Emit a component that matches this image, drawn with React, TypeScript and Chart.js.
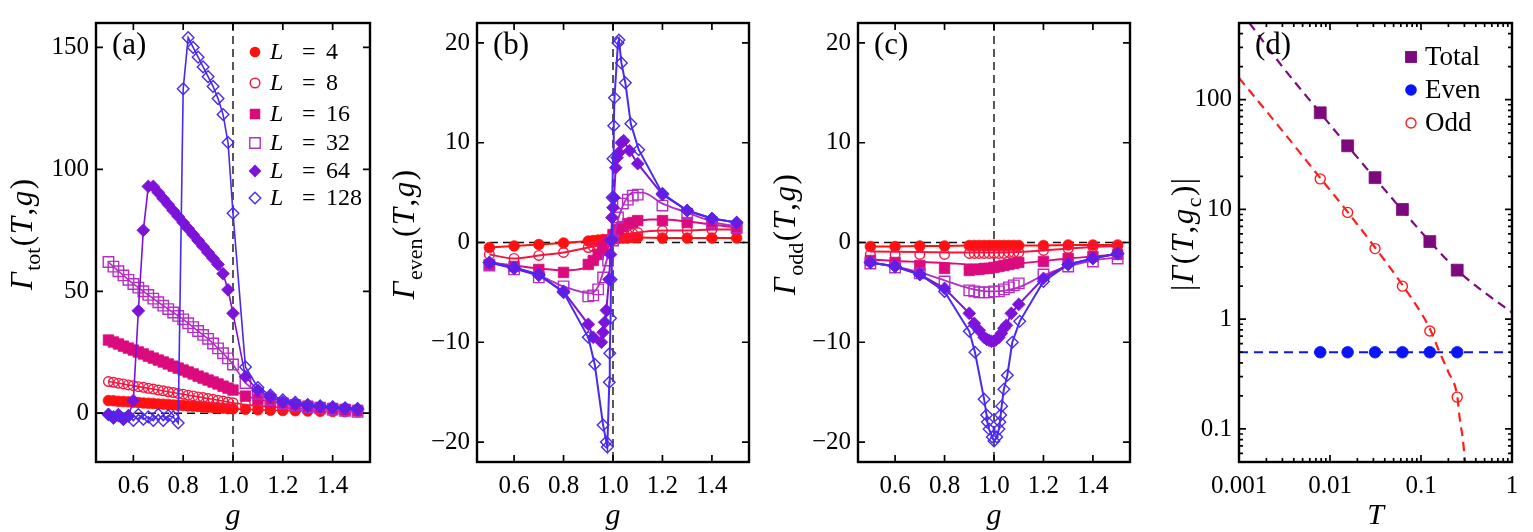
import React, { useEffect, useRef } from "react";
import { Chart, registerables } from "chart.js";
Chart.register(...registerables);

const SERIF = '"Liberation Serif", "DejaVu Serif", serif';

// ---------- colours ----------
const C4 = "#ff1010";
const C8 = "#f5163f";
const C16 = "#db0b7e";
const C32 = "#b52fc3";
const C64 = "#7d12d9";
const C128 = "#4a29f0";
const PURPLE = "#7d0a7d";
const BLUE = "#0a14f5";
const RED = "#ff1e1e";

// ---------- panel (a): Gamma_tot ----------
const gA = [0.5, 0.52, 0.54, 0.56, 0.58, 0.6, 0.62, 0.64, 0.66, 0.68, 0.7, 0.72, 0.74, 0.76, 0.78, 0.8, 0.82, 0.84, 0.86, 0.88, 0.9, 0.92, 0.94, 0.96, 0.98, 1.0, 1.05, 1.1, 1.15, 1.2, 1.25, 1.3, 1.35, 1.4, 1.45, 1.5];
const totL4 = [5.2, 5.1, 4.9, 4.8, 4.7, 4.5, 4.4, 4.2, 4.1, 4.0, 3.8, 3.7, 3.6, 3.4, 3.3, 3.2, 3.0, 2.9, 2.8, 2.6, 2.5, 2.3, 2.2, 2.1, 1.9, 1.8, 1.6, 1.4, 1.2, 1.1, 1.0, 0.9, 0.8, 0.7, 0.6, 0.6];
const totL8 = [13.0, 12.7, 12.3, 12.0, 11.6, 11.3, 10.9, 10.6, 10.2, 9.9, 9.5, 9.2, 8.8, 8.5, 8.1, 7.8, 7.4, 7.1, 6.7, 6.4, 6.0, 5.7, 5.3, 5.0, 4.6, 4.3, 3.5, 3.0, 2.6, 2.3, 2.0, 1.8, 1.6, 1.4, 1.2, 1.0];
const totL16 = [30.0, 29.2, 28.4, 27.5, 26.7, 25.9, 25.1, 24.3, 23.4, 22.6, 21.8, 21.0, 20.2, 19.3, 18.5, 17.7, 16.9, 16.1, 15.2, 14.4, 13.6, 12.8, 12.0, 11.1, 10.3, 9.5, 7.0, 5.7, 4.7, 4.0, 3.4, 2.9, 2.4, 2.0, 1.6, 1.2];
const totL32 = [62.0, 60.1, 58.2, 56.5, 54.7, 53.0, 51.5, 50.0, 48.5, 47.0, 45.5, 44.1, 42.7, 41.3, 39.9, 38.5, 36.9, 35.3, 33.7, 32.1, 30.5, 28.6, 26.6, 24.6, 22.5, 20.0, 12.4, 8.0, 5.5, 4.0, 3.2, 2.5, 2.0, 1.5, 1.0, 0.6];
const totL64 = [-0.5, -2.0, -1.0, -2.5, -1.2, 5.2, 42.0, 75.0, 93.0, 93.0, 90.5, 88.0, 85.6, 83.1, 80.7, 78.2, 75.7, 73.3, 70.8, 68.4, 65.9, 63.5, 61.0, 57.2, 50.6, 41.0, 15.0, 9.4, 6.7, 4.6, 3.7, 2.9, 2.6, 2.3, 1.9, 1.6];
const totL128 = [-0.5, -1.5, -0.5, -2.5, -1.0, -3.0, -0.5, -2.5, -1.5, -3.0, -0.5, -3.0, -1.0, -1.5, -4.0, 133, 154, 150, 146, 142, 138, 134, 129, 122.5, 111, 82, 19, 10.5, 7.5, 5.5, 4.5, 3.6, 3.0, 2.6, 2.2, 1.9];

// ---------- panels (b),(c): common g grid ----------
const gBC = [0.5, 0.6, 0.7, 0.8, 0.9, 0.92, 0.94, 0.96, 0.98, 1.0, 1.02, 1.04, 1.06, 1.08, 1.1, 1.2, 1.3, 1.4, 1.5];

// (b) Gamma_even
const evenL4 = [-0.5, -0.35, -0.2, -0.05, 0.15, 0.2, 0.25, 0.3, 0.3, 0.35, 0.4, 0.45, 0.45, 0.5, 0.5, 0.45, 0.45, 0.45, 0.45];
const evenL8 = [-1.2, -1.6, -1.3, -1.0, -0.5, -0.4, -0.3, -0.1, 0.1, 0.3, 0.5, 0.7, 0.8, 0.9, 1.0, 1.2, 1.2, 1.3, 1.3];
const evenL16 = [-2.2, -2.4, -2.7, -3.0, -2.2, -1.8, -1.2, -0.5, 0.2, 0.8, 1.3, 1.6, 1.9, 2.0, 2.2, 2.2, 2.0, 1.8, 1.4];
const evenL32 = [-2.3, -2.7, -3.5, -4.4, -5.4, -5.3, -4.7, -3.5, -1.8, 0.2, 2.5, 3.9, 4.3, 4.7, 4.8, 3.7, 2.9, 2.0, 1.5];
const gEvenL64 = [0.5, 0.6, 0.7, 0.8, 0.9, 0.92, 0.953, 0.96, 0.966, 0.973, 0.984, 0.99, 0.993, 0.996, 1.0, 1.004, 1.011, 1.016, 1.024, 1.034, 1.043, 1.067, 1.1, 1.2, 1.3, 1.4, 1.5];
const evenL64 = [-2.0, -2.6, -3.3, -4.9, -8.2, -9.5, -10.0, -9.0, -8.0, -6.8, -3.7, -1.2, 0.2, 2.5, 3.5, 4.5, 7.5, 8.5, 9.0, 10.0, 10.2, 9.2, 7.9, 4.8, 3.2, 2.4, 2.0];
const gEvenL128 = [0.5, 0.6, 0.7, 0.8, 0.9, 0.926, 0.96, 0.973, 0.977, 0.985, 0.987, 0.99, 0.992, 0.995, 0.997, 1.0, 1.003, 1.006, 1.02, 1.024, 1.034, 1.05, 1.072, 1.104, 1.2, 1.3, 1.4, 1.5];
const evenL128 = [-2.0, -2.5, -3.2, -5.0, -9.5, -12.2, -18.3, -20.0, -20.5, -14.0, -11.1, -7.6, -3.7, 0.3, 4.5, 8.4, 11.7, 14.5, 20.0, 20.3, 18.0, 16.0, 11.9, 9.3, 4.9, 3.2, 2.4, 2.0];
// (b) smooth curves for L=16, 32
const gEvenLine16 = [0.5, 0.6, 0.7, 0.8, 0.88, 0.93, 0.97, 1.0, 1.03, 1.08, 1.15, 1.2, 1.3, 1.4, 1.5];
const evenLine16 = [-2.0, -2.3, -2.6, -2.8, -2.6, -2.0, -0.9, 0.3, 1.3, 2.0, 2.3, 2.3, 2.1, 1.8, 1.5];
const gEvenLine32 = [0.5, 0.6, 0.7, 0.8, 0.88, 0.91, 0.94, 0.96, 0.98, 1.0, 1.02, 1.05, 1.08, 1.12, 1.2, 1.3, 1.4, 1.5];
const evenLine32 = [-1.9, -2.5, -3.3, -4.4, -5.0, -5.1, -4.4, -3.0, -1.3, 0.3, 2.3, 4.2, 5.0, 5.0, 3.9, 3.0, 2.1, 1.6];

// (c) Gamma_odd
const oddL4 = [-0.4, -0.4, -0.35, -0.35, -0.3, -0.3, -0.3, -0.3, -0.3, -0.3, -0.3, -0.3, -0.3, -0.3, -0.3, -0.3, -0.25, -0.25, -0.25];
const oddL8 = [-1.2, -1.2, -1.2, -1.2, -1.1, -1.1, -1.1, -1.1, -1.1, -1.1, -1.1, -1.1, -1.0, -1.0, -1.0, -0.8, -0.6, -0.45, -0.35];
const oddL16 = [-1.8, -2.0, -2.3, -2.6, -2.8, -2.7, -2.7, -2.6, -2.6, -2.5, -2.4, -2.3, -2.2, -2.1, -2.0, -1.9, -1.6, -1.4, -1.2];
const oddL32 = [-2.1, -2.5, -3.1, -3.9, -4.8, -4.9, -5.0, -5.0, -5.0, -4.9, -4.9, -4.7, -4.5, -4.3, -4.1, -3.2, -2.4, -1.9, -1.6];
const gOddL64 = [0.5, 0.6, 0.7, 0.8, 0.9, 0.92, 0.94, 0.96, 0.97, 0.98, 0.99, 1.0, 1.01, 1.02, 1.03, 1.04, 1.05, 1.07, 1.1, 1.2, 1.3, 1.4, 1.5];
const oddL64 = [-2.0, -2.4, -3.2, -4.6, -7.1, -8.1, -8.8, -9.5, -9.7, -9.8, -9.9, -9.9, -9.7, -9.5, -9.1, -8.6, -8.3, -7.1, -6.2, -3.6, -2.2, -1.6, -1.1];
const gOddL128 = [0.5, 0.6, 0.7, 0.8, 0.9, 0.923, 0.96, 0.97, 0.973, 0.98, 0.993, 1.0, 1.011, 1.02, 1.024, 1.027, 1.031, 1.04, 1.054, 1.074, 1.104, 1.2, 1.3, 1.4, 1.5];
const oddL128 = [-2.0, -2.4, -3.2, -4.9, -8.9, -11.0, -15.7, -17.3, -18.0, -18.7, -19.5, -19.9, -19.5, -18.7, -18.0, -17.3, -16.4, -14.7, -13.3, -10.0, -7.9, -3.9, -2.2, -1.6, -1.1];
const gOddLine8 = [0.5, 0.7, 0.9, 1.0, 1.1, 1.2, 1.3, 1.4, 1.5];
const oddLine8 = [-0.9, -0.95, -1.0, -1.0, -0.95, -0.8, -0.6, -0.45, -0.35];
const gOddLine16 = [0.5, 0.6, 0.7, 0.8, 0.9, 1.0, 1.1, 1.2, 1.3, 1.4, 1.5];
const oddLine16 = [-1.7, -1.85, -1.95, -2.05, -2.2, -2.25, -2.1, -1.85, -1.6, -1.4, -1.2];
const gOddLine32 = [0.5, 0.6, 0.7, 0.8, 0.9, 0.95, 1.0, 1.05, 1.1, 1.2, 1.3, 1.4, 1.5];
const oddLine32 = [-2.0, -2.4, -3.0, -3.8, -4.6, -4.85, -4.9, -4.8, -4.5, -3.3, -2.4, -1.8, -1.5];

// ---------- panel (d) ----------
const T = [0.0078125, 0.015625, 0.03125, 0.0625, 0.125, 0.25];
const totalAbs = [76, 38, 19.5, 10, 5.1, 2.8];
const evenAbs = [0.5, 0.5, 0.5, 0.5, 0.5, 0.5];
const oddAbs = [19, 9.4, 4.4, 2.0, 0.78, 0.195];
const fitTotalT = [0.0013, 0.003, 0.0078, 0.0156, 0.03125, 0.0625, 0.125, 0.25, 0.5, 1.0];
const fitTotalV = [500, 200, 76, 38, 19.2, 9.8, 5.1, 2.8, 1.75, 1.15];
const fitOddT = [0.001, 0.003, 0.0078, 0.0156, 0.03125, 0.0625, 0.125, 0.16, 0.2, 0.25, 0.267, 0.288, 0.305];
const fitOddV = [158, 52, 19.4, 9.5, 4.5, 2.05, 0.82, 0.5, 0.33, 0.2, 0.123, 0.081, 0.05];
const fitEvenT = [0.001, 1];
const fitEvenV = [0.5, 0.5];

// ---------- ticks / labels ----------
const gTicks = [0.6, 0.8, 1.0, 1.2, 1.4];
const totTicks = [0, 50, 100, 150];
const evenOddTicks = [-20, -10, 0, 10, 20];
const tTicks = [0.001, 0.01, 0.1, 1];
const absTicks = [0.1, 1, 10, 100];
const legendLabelsA = ["4", "8", "16", "32", "64", "128"];
const legendLabelsD = ["Total", "Even", "Odd"];

// ---------- helpers ----------
type Mk = { color: string; shape: string; r: number; fill: boolean };
const MK: Mk[] = [
  { color: C4, shape: "circle", r: 5.3, fill: true },
  { color: C8, shape: "circle", r: 4.8, fill: false },
  { color: C16, shape: "rect", r: 7.4, fill: true },
  { color: C32, shape: "rect", r: 7.4, fill: false },
  { color: C64, shape: "rectRot", r: 6.4, fill: true },
  { color: C128, shape: "rectRot", r: 5.8, fill: false },
];

const xy = (xs: number[], ys: number[]) => xs.map((x, i) => ({ x, y: ys[i] }));

function markerDs(xs: number[], ys: number[], m: Mk, line: boolean, order: number, lw = 1.6) {
  return {
    data: xy(xs, ys),
    showLine: line,
    borderColor: m.color,
    borderWidth: lw,
    pointStyle: m.shape,
    pointRadius: m.r,
    pointHoverRadius: m.r,
    pointBackgroundColor: m.fill ? m.color : "rgba(255,255,255,0)",
    pointBorderColor: m.color,
    pointBorderWidth: m.fill ? 0.8 : 1.4,
    tension: 0,
    order,
  };
}

function lineDs(xs: number[], ys: number[], color: string, order: number, lw = 1.8, dash: number[] = [], smooth = true) {
  return {
    data: xy(xs, ys),
    showLine: true,
    borderColor: color,
    backgroundColor: color,
    borderWidth: lw,
    borderDash: dash,
    pointRadius: 0,
    pointHoverRadius: 0,
    cubicInterpolationMode: smooth ? "monotone" : "default",
    tension: 0,
    order,
  };
}

type Seg = { t: string; it?: boolean; sub?: boolean };

function drawMath(ctx: CanvasRenderingContext2D, segs: Seg[], cx: number, cy: number, size: number, rot: boolean, gap = 0) {
  ctx.save();
  ctx.translate(cx, cy);
  if (rot) ctx.rotate(-Math.PI / 2);
  const fontOf = (s: Seg) => `${s.it ? "italic " : ""}${s.sub ? Math.round(size * 0.7) : size}px ${SERIF}`;
  let total = 0;
  const ws = segs.map((s) => {
    ctx.font = fontOf(s);
    const w = ctx.measureText(s.t).width;
    total += w;
    return w;
  });
  total += gap * (segs.length - 1);
  let x = -total / 2;
  ctx.fillStyle = "#000";
  ctx.textAlign = "left";
  ctx.textBaseline = "alphabetic";
  segs.forEach((s, i) => {
    ctx.font = fontOf(s);
    ctx.fillText(s.t, x, size * 0.33 + (s.sub ? size * 0.24 : 0));
    x += ws[i] + gap;
  });
  ctx.restore();
}

function drawMarker(ctx: CanvasRenderingContext2D, m: Mk, x: number, y: number) {
  ctx.save();
  ctx.beginPath();
  if (m.shape === "circle") ctx.arc(x, y, m.r, 0, Math.PI * 2);
  else if (m.shape === "rect") {
    const s = m.r * Math.SQRT1_2;
    ctx.rect(x - s, y - s, 2 * s, 2 * s);
  } else {
    ctx.moveTo(x, y - m.r);
    ctx.lineTo(x + m.r, y);
    ctx.lineTo(x, y + m.r);
    ctx.lineTo(x - m.r, y);
    ctx.closePath();
  }
  if (m.fill) {
    ctx.fillStyle = m.color;
    ctx.fill();
  } else {
    ctx.strokeStyle = m.color;
    ctx.lineWidth = 1.4;
    ctx.stroke();
  }
  ctx.restore();
}

function minorLog(lo: number, hi: number) {
  const out: number[] = [];
  for (let e = -4; e <= 3; e++) {
    for (let k = 2; k <= 9; k++) {
      const v = k * Math.pow(10, e);
      if (v >= lo * 0.999 && v <= hi * 1.001) out.push(v);
    }
  }
  return out;
}

type Deco = {
  refLines: boolean;
  xMajor: number[];
  yMajor: number[];
  xMinor?: number[];
  yMinor?: number[];
  yTitle: Seg[];
  yTitleX: number;
  xTitle: string;
  label: string;
  legend?: (ctx: CanvasRenderingContext2D) => void;
};

function decoPlugin(o: Deco) {
  return {
    id: "deco",
    beforeDatasetsDraw(chart: any) {
      if (!o.refLines) return;
      const { ctx, chartArea: a, scales } = chart;
      ctx.save();
      ctx.strokeStyle = "#111";
      ctx.lineWidth = 1.4;
      ctx.setLineDash([8, 5]);
      const y0 = scales.y.getPixelForValue(0);
      const x1 = scales.x.getPixelForValue(1);
      ctx.beginPath();
      ctx.moveTo(a.left, y0);
      ctx.lineTo(a.right, y0);
      ctx.moveTo(x1, a.top);
      ctx.lineTo(x1, a.bottom);
      ctx.stroke();
      ctx.restore();
    },
    afterDraw(chart: any) {
      const { ctx, chartArea: a, scales } = chart;
      const sx = scales.x;
      const sy = scales.y;
      ctx.save();
      ctx.strokeStyle = "#000";
      ctx.lineWidth = 1.7;
      ctx.beginPath();
      const tx = (v: number, len: number) => {
        const p = sx.getPixelForValue(v);
        ctx.moveTo(p, a.bottom);
        ctx.lineTo(p, a.bottom - len);
        ctx.moveTo(p, a.top);
        ctx.lineTo(p, a.top + len);
      };
      const ty = (v: number, len: number) => {
        const p = sy.getPixelForValue(v);
        ctx.moveTo(a.left, p);
        ctx.lineTo(a.left + len, p);
        ctx.moveTo(a.right, p);
        ctx.lineTo(a.right - len, p);
      };
      o.xMajor.forEach((v) => tx(v, 7));
      o.yMajor.forEach((v) => ty(v, 7));
      (o.xMinor || []).forEach((v) => tx(v, 4));
      (o.yMinor || []).forEach((v) => ty(v, 4));
      ctx.stroke();
      ctx.lineWidth = 2.4;
      ctx.strokeRect(a.left, a.top, a.right - a.left, a.bottom - a.top);
      drawMath(ctx, o.yTitle, o.yTitleX, (a.top + a.bottom) / 2 - 8, 31, true, 1.5);
      drawMath(ctx, [{ t: o.xTitle, it: true }], (a.left + a.right) / 2, 514, 30, false);
      ctx.fillStyle = "#000";
      ctx.font = `31px ${SERIF}`;
      ctx.textAlign = "left";
      ctx.textBaseline = "middle";
      ctx.fillText(o.label, a.left + 16, 46);
      if (o.legend) o.legend(ctx);
      ctx.restore();
    },
  };
}

function makeConfig(p: {
  xType: string;
  yType: string;
  xMin: number;
  xMax: number;
  yMin: number;
  yMax: number;
  xTicks: number[];
  yTicks: number[];
  xFmt: (v: number) => string;
  yFmt: (v: number) => string;
  yWidth: number;
  rightPad: number;
  datasets: any[];
  deco: Deco;
}) {
  const tickFont = { family: SERIF, size: 25 };
  return {
    type: "scatter",
    data: { datasets: p.datasets },
    options: {
      animation: false,
      responsive: false,
      devicePixelRatio: 1,
      events: [],
      layout: { padding: { top: 23, right: p.rightPad, left: 0, bottom: 0 } },
      plugins: { legend: { display: false }, tooltip: { enabled: false } },
      scales: {
        x: {
          type: p.xType,
          min: p.xMin,
          max: p.xMax,
          grid: { display: false, drawTicks: false },
          border: { display: false },
          ticks: { font: tickFont, color: "#000", padding: 9, maxRotation: 0, minRotation: 0, autoSkip: false, callback: (v: any) => p.xFmt(Number(v)) },
          afterBuildTicks: (s: any) => {
            s.ticks = p.xTicks.map((v) => ({ value: v }));
          },
          afterFit: (s: any) => {
            s.height = 70;
          },
        },
        y: {
          type: p.yType,
          min: p.yMin,
          max: p.yMax,
          grid: { display: false, drawTicks: false },
          border: { display: false },
          ticks: { font: tickFont, color: "#000", padding: 7, autoSkip: false, callback: (v: any) => p.yFmt(Number(v)) },
          afterBuildTicks: (s: any) => {
            s.ticks = p.yTicks.map((v) => ({ value: v }));
          },
          afterFit: (s: any) => {
            s.width = p.yWidth;
          },
        },
      },
    },
    plugins: [decoPlugin(p.deco)],
  };
}

const fmtG = (v: number) => v.toFixed(1);
const fmtInt = (v: number) => (v < 0 ? "\u2212" + Math.abs(v) : String(v));
const fmtLog = (v: number) => String(v);

function drawLegendA(ctx: CanvasRenderingContext2D) {
  const rows = [52, 83, 114, 143, 171, 198];
  rows.forEach((y, i) => {
    drawMarker(ctx, MK[i], 255, y);
    ctx.fillStyle = "#000";
    ctx.textBaseline = "middle";
    ctx.textAlign = "left";
    ctx.font = `italic 24px ${SERIF}`;
    ctx.fillText("L", 270, y + 1);
    ctx.font = `24px ${SERIF}`;
    ctx.fillText("=", 302, y + 1);
    ctx.fillText(legendLabelsA[i], 326, y + 1);
  });
}

const MKD: Mk[] = [
  { color: PURPLE, shape: "rect", r: 8.4, fill: true },
  { color: BLUE, shape: "circle", r: 5.8, fill: true },
  { color: RED, shape: "circle", r: 5, fill: false },
];

function drawLegendD(ctx: CanvasRenderingContext2D) {
  const rows = [57, 90, 123];
  rows.forEach((y, i) => {
    drawMarker(ctx, MKD[i], 271, y);
    ctx.fillStyle = "#000";
    ctx.textBaseline = "middle";
    ctx.textAlign = "left";
    ctx.font = `27px ${SERIF}`;
    ctx.fillText(legendLabelsD[i], 285, y + 1);
  });
}

const baseG = { xType: "linear", yType: "linear", xMin: 0.45, xMax: 1.55, xTicks: gTicks, xFmt: fmtG, yFmt: fmtInt };

const titleArgs: Seg[] = [{ t: "(" }, { t: "T", it: true }, { t: "," }, { t: "g", it: true }, { t: ")" }];

function cfgA() {
  const ys = [totL4, totL8, totL16, totL32, totL64, totL128];
  const datasets = ys.map((y, i) => markerDs(gA, y, MK[i], true, 10 - i, 1.6));
  return makeConfig({
    ...baseG,
    yMin: -20,
    yMax: 160,
    yTicks: totTicks,
    yWidth: 96,
    rightPad: 10,
    datasets,
    deco: {
      refLines: true,
      xMajor: gTicks,
      yMajor: totTicks,
      yTitle: [{ t: "\u0393", it: true }, { t: "tot", sub: true }, ...titleArgs],
      yTitleX: 22,
      xTitle: "g",
      label: "(a)",
      legend: drawLegendA,
    },
  });
}

function cfgB() {
  const datasets = [
    markerDs(gBC, evenL4, MK[0], true, 30, 1.9),
    markerDs(gBC, evenL8, MK[1], false, 28),
    lineDs(gBC, evenL8, C8, 29, 1.9),
    markerDs(gBC, evenL16, MK[2], false, 26),
    lineDs(gEvenLine16, evenLine16, C16, 27, 1.9),
    markerDs(gBC, evenL32, MK[3], false, 24),
    lineDs(gEvenLine32, evenLine32, C32, 25, 1.9),
    markerDs(gEvenL64, evenL64, MK[4], true, 22, 2),
    markerDs(gEvenL128, evenL128, MK[5], true, 20, 2),
  ];
  return makeConfig({
    ...baseG,
    yMin: -22,
    yMax: 22,
    yTicks: evenOddTicks,
    yWidth: 97,
    rightPad: 11,
    datasets,
    deco: {
      refLines: true,
      xMajor: gTicks,
      yMajor: evenOddTicks,
      yTitle: [{ t: "\u0393", it: true }, { t: "even", sub: true }, ...titleArgs],
      yTitleX: 24,
      xTitle: "g",
      label: "(b)",
    },
  });
}

function cfgC() {
  const datasets = [
    markerDs(gBC, oddL4, MK[0], true, 30, 1.9),
    markerDs(gBC, oddL8, MK[1], false, 28),
    lineDs(gOddLine8, oddLine8, C8, 29, 1.9),
    markerDs(gBC, oddL16, MK[2], false, 26),
    lineDs(gOddLine16, oddLine16, C16, 27, 1.9),
    markerDs(gBC, oddL32, MK[3], false, 24),
    lineDs(gOddLine32, oddLine32, C32, 25, 1.9),
    markerDs(gOddL64, oddL64, MK[4], true, 22, 2),
    markerDs(gOddL128, oddL128, MK[5], true, 20, 2),
  ];
  return makeConfig({
    ...baseG,
    yMin: -22,
    yMax: 22,
    yTicks: evenOddTicks,
    yWidth: 98,
    rightPad: 10,
    datasets,
    deco: {
      refLines: true,
      xMajor: gTicks,
      yMajor: evenOddTicks,
      yTitle: [{ t: "\u0393", it: true }, { t: "odd", sub: true }, ...titleArgs],
      yTitleX: 25,
      xTitle: "g",
      label: "(c)",
    },
  });
}

function cfgD() {
  const datasets = [
    lineDs(fitTotalT, fitTotalV, PURPLE, 10, 2.2, [9, 6]),
    lineDs(fitOddT, fitOddV, RED, 9, 2.2, [9, 6]),
    lineDs(fitEvenT, fitEvenV, BLUE, 8, 2.2, [9, 6], false),
    markerDs(T, totalAbs, MKD[0], false, 3),
    markerDs(T, evenAbs, MKD[1], false, 2),
    markerDs(T, oddAbs, MKD[2], false, 1),
  ];
  return makeConfig({
    xType: "logarithmic",
    yType: "logarithmic",
    xMin: 0.001,
    xMax: 1,
    yMin: 0.05,
    yMax: 500,
    xTicks: tTicks,
    yTicks: absTicks,
    xFmt: fmtLog,
    yFmt: fmtLog,
    yWidth: 99,
    rightPad: 21,
    datasets,
    deco: {
      refLines: false,
      xMajor: tTicks,
      yMajor: absTicks,
      xMinor: minorLog(0.001, 1),
      yMinor: minorLog(0.05, 500),
      yTitle: [{ t: "|" }, { t: "\u0393", it: true }, { t: "(" }, { t: "T", it: true }, { t: "," }, { t: "g", it: true }, { t: "c", sub: true }, { t: ")" }, { t: "|" }],
      yTitleX: 43,
      xTitle: "T",
      label: "(d)",
      legend: drawLegendD,
    },
  });
}

function Panel({ left, width, make }: { left: number; width: number; make: () => any }) {
  const ref = useRef<HTMLCanvasElement>(null);
  useEffect(() => {
    const chart = new Chart(ref.current as HTMLCanvasElement, make());
    return () => chart.destroy();
  }, []);
  return (
    <canvas
      ref={ref}
      width={width}
      height={532}
      style={{ position: "absolute", left, top: 0, width, height: 532, display: "block" }}
    />
  );
}

export default function App() {
  return (
    <div style={{ position: "fixed", left: 0, top: 0, width: 1533, height: 532, background: "#fff" }}>
      <Panel left={0} width={380} make={cfgA} />
      <Panel left={380} width={380} make={cfgB} />
      <Panel left={760} width={380} make={cfgC} />
      <Panel left={1140} width={393} make={cfgD} />
    </div>
  );
}
